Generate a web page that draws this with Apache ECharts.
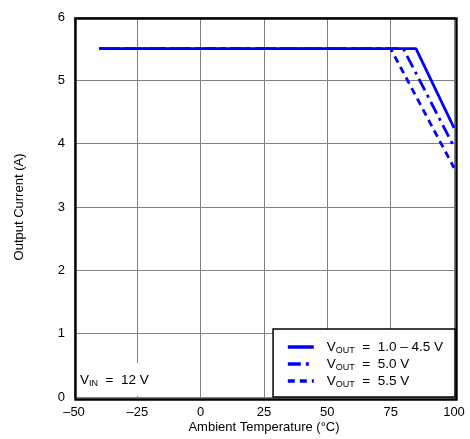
<!DOCTYPE html>
<html>
<head>
<meta charset="utf-8">
<script src="https://cdn.jsdelivr.net/npm/echarts@6/dist/echarts.min.js"></script>
<style>html,body{margin:0;padding:0;background:#fff}#c{width:470px;height:439px}</style>
</head>
<body>
<div id="c"></div>
<script>
var xTicks = [-50, -25, 0, 25, 50, 75, 100];
var yTicks = [0, 1, 2, 3, 4, 5, 6];
var seriesNames = ['VOUT = 1.0 – 4.5 V', 'VOUT = 5.0 V', 'VOUT = 5.5 V'];
var legendValues = ['1.0 – 4.5 V', '5.0 V', '5.5 V'];
var vout1 = [[-40, 5.5], [85, 5.5], [100, 4.25]];
var vout50 = [[-40, 5.5], [80, 5.5], [100, 3.95]];
var vout55 = [[-40, 5.5], [75, 5.5], [100, 3.62]];
var vinLabel = '12 V';

var chart = echarts.init(document.getElementById('c'), null, {renderer: 'canvas'});
var FONT = 'Liberation Sans, Arial, sans-serif';
var blue = '#0000ff';
function mk(name, data, type) {
  return {
    name: name, type: 'line', data: data, symbol: 'none', silent: true,
    lineStyle: {color: blue, width: 2.8, type: type, cap: 'butt'},
    itemStyle: {color: blue}, z: 3
  };
}
chart.setOption({
  animation: false,
  textStyle: {fontFamily: FONT},
  grid: {left: 74, right: 16, top: 17, bottom: 42, show: false, containLabel: false, outerBoundsMode: 'none'},
  xAxis: {
    type: 'value', min: -50, max: 100, interval: 25,
    name: 'Ambient Temperature (°C)', nameLocation: 'middle', nameGap: 24, nameMoveOverlap: false,
    nameTextStyle: {fontSize: 13, color: '#000', fontFamily: FONT},
    axisLine: {show: false},
    axisTick: {show: false},
    axisLabel: {fontSize: 13, color: '#000', margin: 9, fontFamily: FONT,
      formatter: function (v) { return String(v).replace('-', '\u2013'); }},
    splitLine: {show: true, lineStyle: {color: '#808080', width: 1}}
  },
  yAxis: {
    type: 'value', min: 0, max: 6, interval: 1,
    name: 'Output Current (A)', nameLocation: 'middle', nameGap: 48, nameMoveOverlap: false,
    nameTextStyle: {fontSize: 13, color: '#000', fontFamily: FONT},
    axisLine: {show: false},
    axisTick: {show: false},
    axisLabel: {fontSize: 13, color: '#000', margin: 9, fontFamily: FONT},
    splitLine: {show: true, lineStyle: {color: '#808080', width: 1}}
  },
  legend: {
    orient: 'vertical', right: 15, bottom: 42,
    backgroundColor: '#fff', borderColor: '#000', borderWidth: 1.5,
    padding: [11, 12, 8, 13], itemGap: 2, itemWidth: 26, itemHeight: 14,
    selectedMode: false, align: 'left', z: 5,
    itemStyle: {opacity: 0},
    lineStyle: {width: 3.5},
    data: seriesNames,
    formatter: function (n) {
      var i = seriesNames.indexOf(n);
      return '{v|V}{s|OUT}{v|  =  ' + legendValues[i] + '}';
    },
    textStyle: {
      fontSize: 13, color: '#000', fontFamily: FONT, padding: [0, 0, 0, 8],
      rich: {
        v: {fontSize: 13.5, lineHeight: 16, color: '#000', fontFamily: FONT},
        s: {fontSize: 9, lineHeight: 9, verticalAlign: 'bottom', color: '#000', fontFamily: FONT}
      }
    }
  },
  graphic: [
    {type: 'rect', left: 75, top: 363, shape: {width: 100, height: 33}, style: {fill: '#fff'}, z: 4, silent: true},
    {type: 'text', left: 80, top: 373, z: 5, silent: true,
      style: {
        text: '{v|V}{s|IN}{v|  =  ' + vinLabel + '}',
        fontFamily: FONT, fill: '#000',
        rich: {
          v: {fontSize: 13.5, lineHeight: 16, fill: '#000', fontFamily: FONT},
          s: {fontSize: 9, lineHeight: 9, verticalAlign: 'bottom', fill: '#000', fontFamily: FONT}
        }
      }},
    {type: 'rect', left: 73, top: 16, shape: {width: 381, height: 381},
      style: {fill: 'none', stroke: '#000', lineWidth: 2.4}, z: 10, silent: true}
  ],
  series: [
    mk(seriesNames[0], vout1, 'solid'),
    mk(seriesNames[1], vout50, [13, 5, 3, 5]),
    mk(seriesNames[2], vout55, [7, 5])
  ]
});
</script>
</body>
</html>
